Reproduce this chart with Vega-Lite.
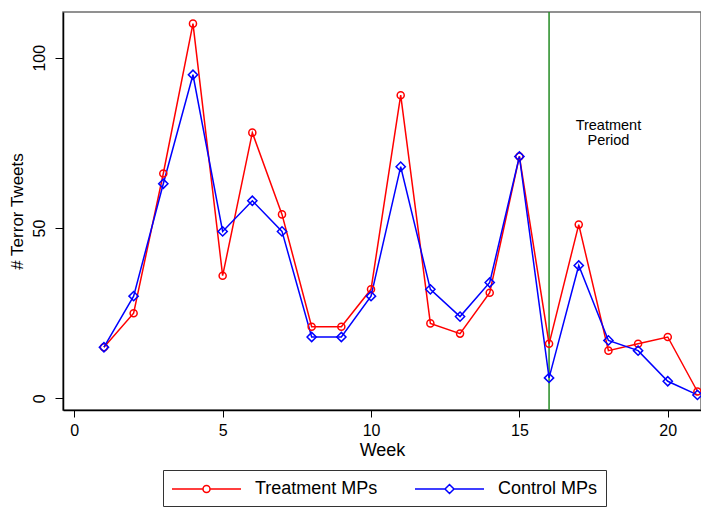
{
  "$schema": "https://vega.github.io/schema/vega-lite/v6.json",
  "autosize": {"type": "none"},
  "width": 638,
  "height": 398,
  "padding": {"left": 63, "top": 12, "right": 0, "bottom": 97},
  "background": "white",
  "config": {
    "font": "Liberation Sans",
    "view": {"stroke": "#6e6e6e", "strokeWidth": 1.5},
    "axis": {
      "grid": false,
      "domainColor": "#000000",
      "domainWidth": 1.5,
      "tickColor": "#000000",
      "tickWidth": 1,
      "labelColor": "#000000",
      "titleColor": "#000000",
      "labelFont": "Liberation Sans",
      "titleFont": "Liberation Sans",
      "titleFontWeight": "normal"
    }
  },
  "datasets": {
    "tweets": [
      {"week": 1, "group": "Treatment MPs", "tweets": 15},
      {"week": 2, "group": "Treatment MPs", "tweets": 25},
      {"week": 3, "group": "Treatment MPs", "tweets": 66},
      {"week": 4, "group": "Treatment MPs", "tweets": 110},
      {"week": 5, "group": "Treatment MPs", "tweets": 36},
      {"week": 6, "group": "Treatment MPs", "tweets": 78},
      {"week": 7, "group": "Treatment MPs", "tweets": 54},
      {"week": 8, "group": "Treatment MPs", "tweets": 21},
      {"week": 9, "group": "Treatment MPs", "tweets": 21},
      {"week": 10, "group": "Treatment MPs", "tweets": 32},
      {"week": 11, "group": "Treatment MPs", "tweets": 89},
      {"week": 12, "group": "Treatment MPs", "tweets": 22},
      {"week": 13, "group": "Treatment MPs", "tweets": 19},
      {"week": 14, "group": "Treatment MPs", "tweets": 31},
      {"week": 15, "group": "Treatment MPs", "tweets": 71},
      {"week": 16, "group": "Treatment MPs", "tweets": 16},
      {"week": 17, "group": "Treatment MPs", "tweets": 51},
      {"week": 18, "group": "Treatment MPs", "tweets": 14},
      {"week": 19, "group": "Treatment MPs", "tweets": 16},
      {"week": 20, "group": "Treatment MPs", "tweets": 18},
      {"week": 21, "group": "Treatment MPs", "tweets": 2},
      {"week": 1, "group": "Control MPs", "tweets": 15},
      {"week": 2, "group": "Control MPs", "tweets": 30},
      {"week": 3, "group": "Control MPs", "tweets": 63},
      {"week": 4, "group": "Control MPs", "tweets": 95},
      {"week": 5, "group": "Control MPs", "tweets": 49},
      {"week": 6, "group": "Control MPs", "tweets": 58},
      {"week": 7, "group": "Control MPs", "tweets": 49},
      {"week": 8, "group": "Control MPs", "tweets": 18},
      {"week": 9, "group": "Control MPs", "tweets": 18},
      {"week": 10, "group": "Control MPs", "tweets": 30},
      {"week": 11, "group": "Control MPs", "tweets": 68},
      {"week": 12, "group": "Control MPs", "tweets": 32},
      {"week": 13, "group": "Control MPs", "tweets": 24},
      {"week": 14, "group": "Control MPs", "tweets": 34},
      {"week": 15, "group": "Control MPs", "tweets": 71},
      {"week": 16, "group": "Control MPs", "tweets": 6},
      {"week": 17, "group": "Control MPs", "tweets": 39},
      {"week": 18, "group": "Control MPs", "tweets": 17},
      {"week": 19, "group": "Control MPs", "tweets": 14},
      {"week": 20, "group": "Control MPs", "tweets": 5},
      {"week": 21, "group": "Control MPs", "tweets": 1}
    ],
    "marker": [
      {"week": 16, "note": ["Treatment", "Period"], "noteWeek": 18, "noteLevel": 80}
    ]
  },
  "encoding": {
    "x": {
      "field": "week",
      "type": "quantitative",
      "title": "Week",
      "scale": {"domain": [-0.38, 21.12], "nice": false, "zero": false},
      "axis": {
        "values": [0, 5, 10, 15, 20],
        "tickSize": 7,
        "labelPadding": 5,
        "labelFontSize": 16,
        "titleFontSize": 18,
        "titlePadding": 3,
        "labelFlush": false
      }
    },
    "y": {
      "field": "tweets",
      "type": "quantitative",
      "title": "# Terror Tweets",
      "scale": {"domain": [-3.43, 113.42], "nice": false, "zero": false},
      "axis": {
        "values": [0, 50, 100],
        "tickSize": 8,
        "labelAngle": -90,
        "labelAlign": "center",
        "labelBaseline": "bottom",
        "labelPadding": 8,
        "labelFontSize": 16,
        "titleFontSize": 17,
        "titlePadding": 5,
        "labelFlush": false
      }
    }
  },
  "layer": [
    {
      "data": {"name": "marker"},
      "mark": {"type": "rule", "color": "#238b23", "strokeWidth": 1.5},
      "encoding": {"x": {"field": "week", "type": "quantitative"}, "y": null}
    },
    {
      "data": {"name": "tweets"},
      "mark": {"type": "line", "strokeWidth": 1.5, "clip": true},
      "encoding": {
        "color": {
          "field": "group",
          "type": "nominal",
          "scale": {"domain": ["Treatment MPs", "Control MPs"], "range": ["#ff0000", "#0000ff"]},
          "legend": {
            "title": null,
            "orient": "none",
            "direction": "horizontal",
            "legendX": 100,
            "legendY": 458,
            "padding": 8,
            "strokeColor": "#333333",
            "fillColor": "#ffffff",
            "symbolSize": 400,
            "symbolStrokeWidth": 1.5,
            "symbolFillColor": "transparent",
            "labelFontSize": 18,
            "labelFont": "Liberation Sans",
            "labelColor": "#000000",
            "labelOffset": 62,
            "columnPadding": 34,
            "encode": {
              "symbols": {
                "update": {
                  "shape": {"signal": "datum.value === 'Treatment MPs' ? 'M-1,0H2.1M2.8,0H5.9M2.1,0A0.35,0.35 0 1,0 2.8,0A0.35,0.35 0 1,0 2.1,0' : 'M-1,0H2.0M2.9,0H5.9M2.0,0L2.45,-0.45L2.9,0L2.45,0.45Z'"},
                  "fill": {"value": "transparent"}
                }
              }
            }
          }
        }
      }
    },
    {
      "data": {"name": "tweets"},
      "transform": [{"filter": "datum.group === 'Treatment MPs'"}],
      "mark": {"type": "point", "shape": "circle", "size": 50, "filled": false, "strokeWidth": 1.5, "opacity": 1, "clip": true},
      "encoding": {"color": {"field": "group", "type": "nominal"}}
    },
    {
      "data": {"name": "tweets"},
      "transform": [{"filter": "datum.group === 'Control MPs'"}],
      "mark": {"type": "point", "shape": "diamond", "size": 85, "filled": false, "strokeWidth": 1.5, "opacity": 1, "clip": true},
      "encoding": {"color": {"field": "group", "type": "nominal"}}
    },
    {
      "data": {"name": "marker"},
      "mark": {"type": "text", "fontSize": 14.5, "font": "Liberation Sans", "color": "#000000", "align": "center", "baseline": "middle", "lineHeight": 15},
      "encoding": {
        "x": {"field": "noteWeek", "type": "quantitative"},
        "y": {"field": "noteLevel", "type": "quantitative"},
        "text": {"field": "note"}
      }
    }
  ]
}
